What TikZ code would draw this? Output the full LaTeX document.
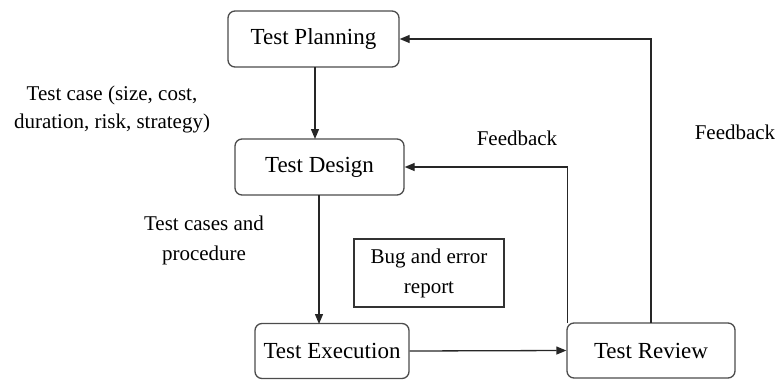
\documentclass[tikz,border=0pt]{standalone}
\usepackage{fontspec}
\setmainfont{Liberation Serif}
\usetikzlibrary{arrows.meta}
\begin{document}
\begin{tikzpicture}[x=1pt,y=-1pt,
  stage/.style={draw=black!70,line width=1.3pt,rounded corners=7pt,
    font=\fontsize{23}{26}\selectfont,inner sep=0pt},
  notebox/.style={draw=black!80,line width=1.1pt,inner sep=0pt,
    font=\fontsize{21}{30}\selectfont,align=center},
  lbl/.style={font=\fontsize{21}{28}\selectfont,align=center,inner sep=0pt},
  flow/.style={draw=black!85,line width=1.3pt,-{Triangle[length=10pt,width=8pt]}}]
\useasboundingbox (0,0) rectangle (779,380);

% process stages
\node[stage,minimum width=171pt,minimum height=56pt] (plan) at (313.5,39) {Test Planning};
\node[stage,minimum width=169pt,minimum height=56pt] (design) at (319.5,167) {Test Design};
\node[stage,minimum width=154pt,minimum height=55pt] (exec) at (332,351) {Test Execution};
\node[stage,minimum width=168pt,minimum height=55pt] (review) at (651,350.5) {Test Review};

% report box
\node[notebox,minimum width=150pt,minimum height=68pt] (bug) at (429,273) {Bug and error\\report};

% labels
\node[lbl] (lcase) at (112,109) {Test case (size, cost,\\duration, risk, strategy)};
\node[lbl,font=\fontsize{21}{30}\selectfont] (lproc) at (204,240) {Test cases and\\procedure};
\node[lbl] (lfb1) at (517,138) {Feedback};
\node[lbl] (lfb2) at (735,132) {Feedback};

% connectors
\coordinate (r1) at (567.5,323);
\coordinate (r2) at (651,323);
\draw[flow] (315,67) -- (315,139);
\draw[flow] (319,195) -- (319,324);
\draw[flow] (exec.east) -- (review.west);
\draw[flow] (r1) -- (r1 |- design.east) -- (design.east);
\draw[flow] (r2) -- (r2 |- plan.east) -- (plan.east);
\end{tikzpicture}
\end{document}
